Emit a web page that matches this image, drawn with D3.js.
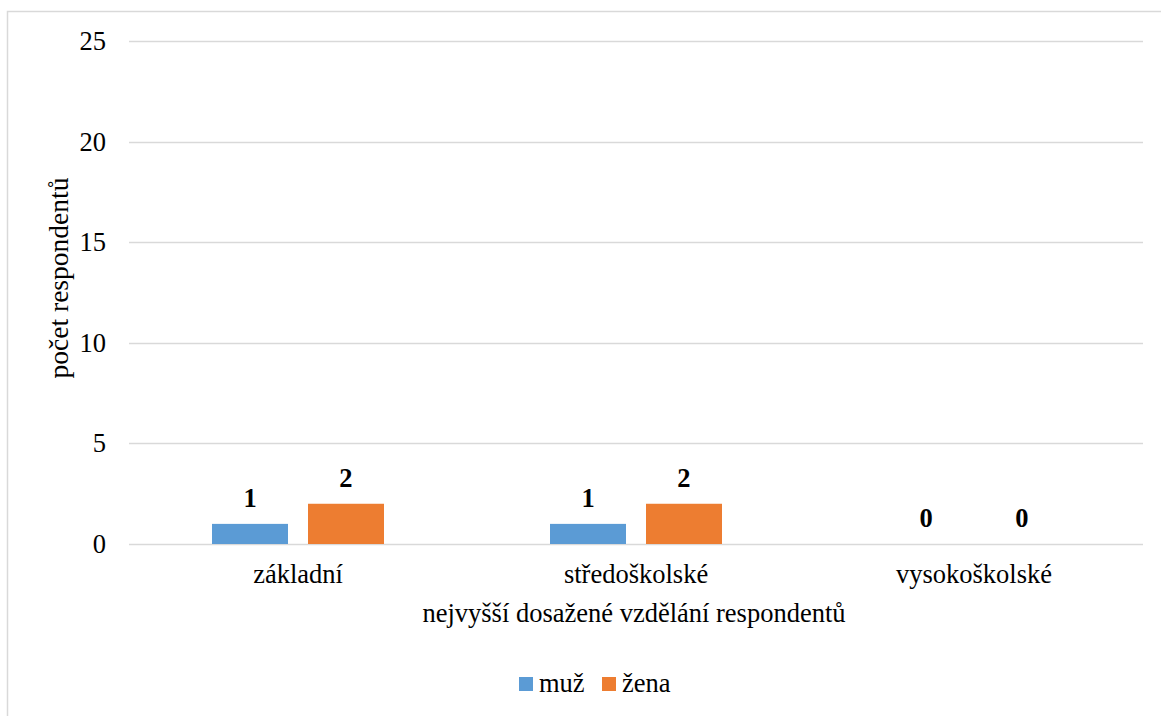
<!DOCTYPE html>
<html>
<head>
<meta charset="utf-8">
<script src="https://cdn.jsdelivr.net/npm/d3@7"></script>
<style>
  html, body { margin: 0; padding: 0; background: #fff; }
  svg { display: block; }
</style>
</head>
<body>
<svg id="chart" width="1161" height="716"></svg>
<script>
// Nejvyšší dosažené vzdělání respondentů podle pohlaví
const categories = ["základní", "středoškolské", "vysokoškolské"];
const seriesNames = ["muž", "žena"];
const muz = [1, 1, 0];
const zena = [2, 2, 0];
const yTicks = [0, 5, 10, 15, 20, 25];
const colors = ["#5B9BD5", "#ED7D31"];

const FONT = "Liberation Serif";
const FS = 26.5;

const seriesValues = [muz, zena];
const rows = categories.map((c, i) => ({
  category: c,
  values: seriesNames.map((s, j) => ({ series: s, value: seriesValues[j][i], color: colors[j] }))
}));

const svg = d3.select("#chart");
const W = 1161, H = 716;
const plot = { left: 129, right: 1143, top: 41, bottom: 544 };

// outer frame of the chart area
svg.append("rect")
  .attr("x", 7.5).attr("y", 11.5)
  .attr("width", W + 20).attr("height", H + 20)
  .attr("fill", "#fff").attr("stroke", "#D9D9D9").attr("stroke-width", 1.5);

const x0 = d3.scaleBand().domain(categories).range([plot.left, plot.right]).padding(0);
const x1 = d3.scaleBand().domain(seriesNames)
  .range([0, x0.bandwidth()])
  .paddingInner(20 / 96)
  .paddingOuter(0.8646);
const y = d3.scaleLinear().domain([0, 25]).range([plot.bottom, plot.top]);

// horizontal gridlines
svg.append("g").selectAll("line").data(yTicks).join("line")
  .attr("x1", plot.left).attr("x2", plot.right)
  .attr("y1", d => Math.round(y(d)) + 0.5).attr("y2", d => Math.round(y(d)) + 0.5)
  .attr("stroke", "#D9D9D9").attr("stroke-width", 1.5);

// y axis labels
const yAxis = d3.axisLeft(y).tickValues(yTicks).tickSize(0).tickPadding(0).tickFormat(d3.format("d"));
const gy = svg.append("g").attr("transform", `translate(${plot.left - 23},0)`).call(yAxis);
gy.select(".domain").remove();
gy.attr("font-family", null).attr("font-size", null);
gy.selectAll("text")
  .style("font-family", FONT).attr("font-size", FS).attr("fill", "#000");

// bars
const groups = svg.append("g").selectAll("g").data(rows).join("g")
  .attr("transform", d => `translate(${x0(d.category)},0)`);

groups.selectAll("rect").data(d => d.values).join("rect")
  .attr("x", d => x1(d.series))
  .attr("width", x1.bandwidth())
  .attr("y", d => y(d.value))
  .attr("height", d => y(0) - y(d.value))
  .attr("fill", d => d.color);

// value labels
groups.selectAll("text").data(d => d.values).join("text")
  .attr("x", d => x1(d.series) + x1.bandwidth() / 2)
  .attr("y", d => y(d.value) - 17)
  .attr("text-anchor", "middle")
  .style("font-family", FONT).attr("font-size", FS).attr("font-weight", "bold")
  .attr("fill", "#000")
  .text(d => d.value);

// category axis labels
const xAxis = d3.axisBottom(x0).tickSize(0).tickPadding(0);
const gx = svg.append("g").attr("transform", `translate(0,${plot.bottom})`).call(xAxis);
gx.select(".domain").remove();
gx.attr("font-family", null).attr("font-size", null);
gx.selectAll("text")
  .style("font-family", FONT).attr("font-size", FS).attr("fill", "#000")
  .attr("dy", null).attr("y", 39);

// axis titles
svg.append("text")
  .attr("x", (plot.left + plot.right) / 2 - 2).attr("y", 622)
  .attr("text-anchor", "middle")
  .style("font-family", FONT).attr("font-size", FS).attr("fill", "#000")
  .text("nejvyšší dosažené vzdělání respondentů");

svg.append("text")
  .attr("transform", "translate(68,278) rotate(-90)")
  .attr("text-anchor", "middle")
  .style("font-family", FONT).attr("font-size", 27.5).attr("fill", "#000")
  .text("počet respondentů");

// legend
const legend = svg.append("g").attr("transform", "translate(519,677)");
const legendItems = legend.selectAll("g").data(seriesNames).join("g")
  .attr("transform", (d, i) => `translate(${i * 83},0)`);
legendItems.append("rect").attr("width", 14).attr("height", 14).attr("fill", (d, i) => colors[i]);
legendItems.append("text").attr("x", 20).attr("y", 14.5)
  .style("font-family", FONT).attr("font-size", FS).attr("fill", "#000")
  .text(d => d);
</script>
</body>
</html>
